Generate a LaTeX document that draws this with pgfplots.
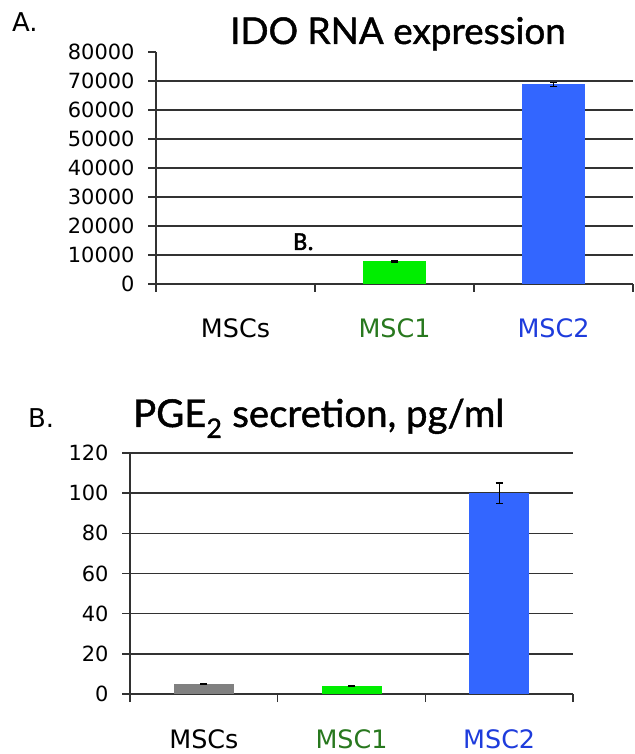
\documentclass[border=0pt]{standalone}
\usepackage{fontspec}
\setmainfont{DejaVu Sans}
\newfontfamily\titlefont[FakeBold=1.2]{Lato}
\newfontfamily\labfont[FakeBold=1.5]{Carlito}
\usepackage{pgfplots}
\pgfplotsset{compat=1.18}

\definecolor{bargreen}{RGB}{0,238,0}
\definecolor{barblue}{RGB}{51,102,255}
\definecolor{bargray}{RGB}{128,128,128}
\definecolor{labgreen}{RGB}{40,120,30}
\definecolor{labblue}{RGB}{30,60,220}
\definecolor{gridc}{RGB}{50,50,50}

\pgfplotsset{
  panel/.style={
    scale only axis,
    axis x line*=bottom, axis y line*=left,
    axis line style={gridc, line width=1.6bp},
    xmin=-0.5, xmax=2.5, ymin=0,
    xtick={0,1,2},
    xticklabels={MSCs,\textcolor{labgreen}{MSC1},\textcolor{labblue}{MSC2}},
    minor xtick={-0.5,0.5,1.5,2.5},
    major x tick style={draw=none},
    tick style={gridc, line width=1.6bp},
    tick align=outside,
    major tick length=8bp, minor tick length=8bp,
    ymajorgrids,
    grid style={gridc, line width=1.6bp},
    scaled y ticks=false,
    /pgf/number format/.cd, 1000 sep={}, assume math mode=true, /pgfplots/.cd,
    tick label style={font=\fontsize{21}{25}\selectfont},
    xticklabel style={font=\fontsize{25.5}{30}\selectfont, anchor=base, yshift=-46bp},
    yticklabel style={anchor=east, xshift=-10bp},
  },
  errs/.style={
    error bars/.cd, y dir=both, y explicit,
    error bar style={black, line width=1.3bp},
    error mark options={rotate=90, mark size=3.5bp, black, line width=1.3bp},
  },
}

\begin{document}
\begin{tikzpicture}[x=1bp,y=1bp]
\useasboundingbox (0,0) rectangle (635,754);

% panel A
\begin{axis}[panel,
  at={(156bp,470bp)}, anchor=south west,
  width=477bp, height=232bp,
  ymax=80000,
  ytick={0,10000,...,70000},
  extra y ticks={80000},
  extra y tick style={grid=none},
]
\addplot[ybar, bar width=63bp, bar shift=0pt, fill=bargray, draw=none]
  coordinates {(0,60)};
\addplot[ybar, bar width=63bp, bar shift=0pt, fill=bargreen, draw=none, errs]
  coordinates {(1,7800) +- (0,250)};
\addplot[ybar, bar width=63bp, bar shift=0pt, fill=barblue, draw=none, errs]
  coordinates {(2,68900) +- (0,700)};
\end{axis}

% panel B
\begin{axis}[panel,
  at={(130bp,60bp)}, anchor=south west,
  width=443bp, height=241bp,
  ymax=120,
  ytick={0,20,...,120},
]
\addplot[ybar, bar width=60bp, bar shift=0pt, fill=bargray, draw=none, errs]
  coordinates {(0,5) +- (0,0.3)};
\addplot[ybar, bar width=60bp, bar shift=0pt, fill=bargreen, draw=none, errs]
  coordinates {(1,4) +- (0,0.3)};
\addplot[ybar, bar width=60bp, bar shift=0pt, fill=barblue, draw=none, errs]
  coordinates {(2,100) +- (0,5)};
\end{axis}

% titles and panel letters
\node[anchor=base west, inner sep=0, font=\fontsize{26}{30}\selectfont] at (12,722) {A.};
\node[anchor=base, inner sep=0, font=\titlefont\fontsize{37}{44}\selectfont] at (398,710) {IDO RNA expression};
\node[anchor=base west, inner sep=0, font=\labfont\fontsize{26}{30}\selectfont] at (293,504) {B.};
\node[anchor=base west, inner sep=0, font=\fontsize{26}{30}\selectfont] at (28,326) {B.};
\node[anchor=base west, inner sep=0, font=\titlefont\fontsize{38.5}{46}\selectfont] at (133,327) {PGE\textsubscript{2} secretion, pg/ml};
\end{tikzpicture}
\end{document}
